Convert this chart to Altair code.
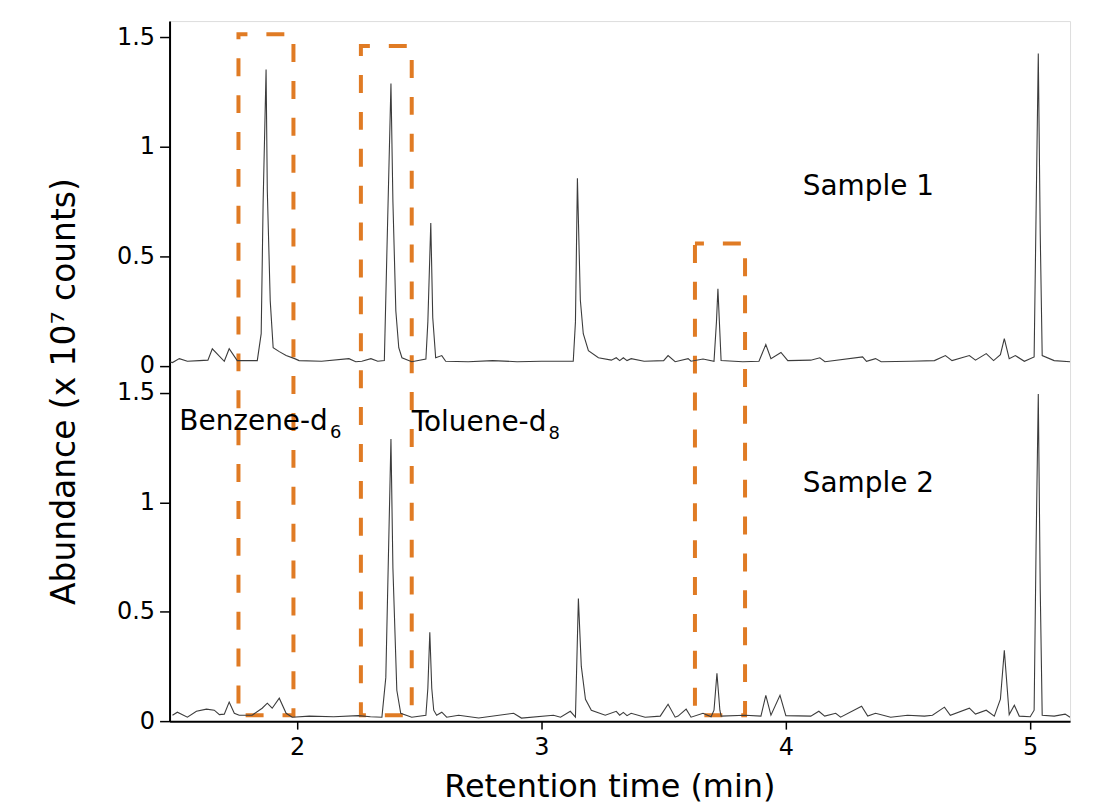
import altair as alt
import pandas as pd

# ---- data (time in min, abundance in 10^7 counts) ----
s1_time = [1.478, 1.490, 1.518, 1.551, 1.600, 1.635, 1.653, 1.702, 1.722, 1.755,
           1.837, 1.853, 1.861, 1.873, 1.878, 1.890, 1.902, 1.927, 1.955, 1.990,
           2.008, 2.100, 2.212, 2.240, 2.265, 2.302, 2.330, 2.357, 2.367, 2.384,
           2.392, 2.404, 2.416, 2.429, 2.469, 2.527, 2.535, 2.547, 2.555, 2.567,
           2.592, 2.608, 2.700, 2.800, 2.900, 3.000, 3.130, 3.139, 3.147, 3.159,
           3.171, 3.192, 3.233, 3.286, 3.306, 3.320, 3.335, 3.350, 3.367, 3.420,
           3.500, 3.518, 3.547, 3.600, 3.612, 3.661, 3.706, 3.716, 3.722, 3.730,
           3.735, 3.824, 3.890, 3.918, 3.939, 3.980, 4.008, 4.102, 4.139, 4.160,
           4.314, 4.330, 4.367, 4.390, 4.510, 4.608, 4.653, 4.680, 4.751, 4.776,
           4.820, 4.850, 4.878, 4.894, 4.914, 4.939, 4.976, 5.016, 5.024, 5.033,
           5.041, 5.049, 5.098, 5.163]
s1_abund = [0.018, 0.014, 0.032, 0.020, 0.023, 0.025, 0.077, 0.020, 0.077, 0.023,
            0.023, 0.146, 0.750, 1.354, 0.800, 0.296, 0.082, 0.064, 0.046, 0.032,
            0.023, 0.020, 0.032, 0.018, 0.020, 0.032, 0.020, 0.023, 0.500, 1.290,
            0.750, 0.250, 0.082, 0.036, 0.018, 0.030, 0.200, 0.652, 0.220, 0.036,
            0.046, 0.020, 0.018, 0.023, 0.018, 0.020, 0.020, 0.200, 0.857, 0.300,
            0.146, 0.068, 0.036, 0.025, 0.036, 0.023, 0.036, 0.023, 0.032, 0.020,
            0.023, 0.046, 0.018, 0.032, 0.020, 0.030, 0.020, 0.200, 0.351, 0.150,
            0.023, 0.018, 0.020, 0.096, 0.032, 0.060, 0.023, 0.025, 0.036, 0.018,
            0.040, 0.020, 0.032, 0.018, 0.020, 0.023, 0.046, 0.023, 0.046, 0.025,
            0.055, 0.023, 0.050, 0.123, 0.032, 0.046, 0.020, 0.040, 0.700, 1.427,
            0.600, 0.046, 0.023, 0.018]

s2_time = [1.490, 1.510, 1.551, 1.588, 1.629, 1.661, 1.682, 1.702, 1.722, 1.743,
           1.763, 1.816, 1.857, 1.878, 1.898, 1.927, 1.955, 1.980, 2.050, 2.150,
           2.250, 2.300, 2.347, 2.363, 2.384, 2.392, 2.408, 2.424, 2.469, 2.527,
           2.535, 2.543, 2.551, 2.559, 2.571, 2.592, 2.612, 2.661, 2.743, 2.886,
           2.918, 3.049, 3.078, 3.118, 3.139, 3.151, 3.163, 3.180, 3.204, 3.261,
           3.306, 3.320, 3.335, 3.350, 3.367, 3.424, 3.486, 3.518, 3.547, 3.559,
           3.592, 3.612, 3.661, 3.694, 3.706, 3.718, 3.730, 3.735, 3.833, 3.898,
           3.918, 3.939, 3.976, 4.000, 4.102, 4.135, 4.159, 4.204, 4.224, 4.310,
           4.335, 4.367, 4.429, 4.498, 4.567, 4.600, 4.649, 4.673, 4.751, 4.776,
           4.820, 4.853, 4.878, 4.894, 4.914, 4.935, 4.955, 5.000, 5.016, 5.024,
           5.033, 5.041, 5.049, 5.098, 5.143, 5.163]
s2_abund = [0.027, 0.041, 0.018, 0.045, 0.055, 0.050, 0.030, 0.032, 0.087, 0.036,
            0.027, 0.027, 0.059, 0.082, 0.059, 0.105, 0.036, 0.018, 0.023, 0.020,
            0.025, 0.020, 0.018, 0.200, 1.290, 0.700, 0.141, 0.036, 0.018, 0.027,
            0.150, 0.406, 0.150, 0.050, 0.027, 0.041, 0.018, 0.027, 0.014, 0.036,
            0.014, 0.027, 0.018, 0.045, 0.018, 0.561, 0.250, 0.100, 0.050, 0.027,
            0.045, 0.027, 0.040, 0.025, 0.036, 0.018, 0.023, 0.077, 0.018, 0.023,
            0.055, 0.018, 0.036, 0.020, 0.050, 0.219, 0.050, 0.023, 0.027, 0.023,
            0.118, 0.027, 0.118, 0.025, 0.023, 0.045, 0.023, 0.036, 0.018, 0.068,
            0.023, 0.036, 0.018, 0.027, 0.023, 0.027, 0.064, 0.027, 0.059, 0.032,
            0.050, 0.023, 0.100, 0.324, 0.030, 0.073, 0.023, 0.020, 0.050, 0.800,
            1.495, 0.600, 0.027, 0.023, 0.032, 0.018]

# highlighted windows (start, end in min; top in Sample 1 units; bottom in Sample 2 units)
box_start = [1.760, 2.261, 3.628]
box_end = [1.985, 2.469, 3.833]
box_top = [1.515, 1.461, 0.558]
box_bottom = [0.027, 0.027, 0.027]

# sample names
sample_labels = ["Sample 1", "Sample 2"]
sample_label_time = [4.069, 4.069]
sample_label_abund = [0.818, 1.085]
sample_label_panel = ["Sample 1", "Sample 2"]

# compound names (placed in the Sample 2 panel) with their subscripts
compound_labels = ["Benzene-d", "Toluene-d"]
compound_time = [1.518, 2.469]
compound_abund = [1.331, 1.326]
subscript_labels = ["6", "8"]
subscript_time = [2.135, 3.029]
subscript_abund = [1.294, 1.290]

y_ticks = [0, 0.5, 1, 1.5]
x_ticks = [2, 3, 4, 5]

OFFSET = 1.625  # vertical stacking offset of the Sample 1 trace

# ---- tables ----
traces = pd.concat([
    pd.DataFrame({"time": s1_time, "abund": s1_abund, "sample": "Sample 1"}),
    pd.DataFrame({"time": s2_time, "abund": s2_abund, "sample": "Sample 2"}),
], ignore_index=True)
boxes = pd.DataFrame({"start": box_start, "end": box_end,
                      "top": box_top, "bottom": box_bottom})
samp = pd.DataFrame({"label": sample_labels, "time": sample_label_time,
                     "abund": sample_label_abund, "sample": sample_label_panel})
comp = pd.DataFrame({"label": compound_labels, "time": compound_time,
                     "abund": compound_abund})
subs = pd.DataFrame({"label": subscript_labels, "time": subscript_time,
                     "abund": subscript_abund})

ytick_vals = [v for v in y_ticks] + [v + OFFSET for v in y_ticks]

xscale = alt.Scale(domain=[1.478, 5.163], nice=False, zero=False)
yscale = alt.Scale(domain=[0, 3.2], nice=False, zero=False)

FONT = "DejaVu Sans"

x_axis = alt.Axis(values=x_ticks, format="d", title="Retention time (min)", grid=False,
                  labelFontSize=24, labelFont=FONT, labelColor="black",
                  titleFontSize=32, titleFont=FONT, titleFontWeight="normal",
                  titleColor="black", tickSize=8, tickWidth=1.5, tickColor="black",
                  domainColor="black", domainWidth=2, labelPadding=6,
                  titleX=441, titleY=76, titleBaseline="alphabetic",
                  titleAlign="center")
y_axis = alt.Axis(values=ytick_vals, title="Abundance (x 10\u2077 counts)", grid=False,
                  labelExpr=f"datum.value < 1.6 ? format(datum.value, '') : format(datum.value - {OFFSET}, '')",
                  labelFontSize=24, labelFont=FONT, labelColor="black",
                  titleFontSize=33, titleFont=FONT, titleFontWeight="normal",
                  titleColor="black", tickSize=10, tickWidth=1.5, tickColor="black",
                  domainColor="black", domainWidth=2, labelPadding=5,
                  titleX=-105, titleY=371, titleAngle=270, titleAlign="center",
                  titleBaseline="middle")

lines = alt.Chart(traces).transform_calculate(
    ypos=f"datum.abund + (datum.sample == 'Sample 1' ? {OFFSET} : 0)"
).mark_line(color="#3c3c3c", strokeWidth=1.1, clip=True).encode(
    x=alt.X("time:Q", scale=xscale, axis=x_axis),
    y=alt.Y("ypos:Q", scale=yscale, axis=y_axis),
    detail="sample:N",
)

rects = alt.Chart(boxes).transform_calculate(
    ytop=f"datum.top + {OFFSET}"
).mark_rect(fill=None, fillOpacity=0, stroke="#E07B24", strokeWidth=4,
            strokeDash=[18, 19], strokeDashOffset=9).encode(
    x="start:Q", x2="end:Q", y="ytop:Q", y2="bottom:Q",
)

sample_text = alt.Chart(samp).transform_calculate(
    ypos=f"datum.abund + (datum.sample == 'Sample 1' ? {OFFSET} : 0)"
).mark_text(align="left", baseline="middle", font=FONT, fontSize=28,
            color="black").encode(
    x="time:Q", y="ypos:Q", text="label:N",
)

comp_text = alt.Chart(comp).mark_text(
    align="left", baseline="alphabetic", font=FONT, fontSize=28, color="black"
).encode(x="time:Q", y="abund:Q", text="label:N")

sub_text = alt.Chart(subs).mark_text(
    align="left", baseline="alphabetic", font=FONT, fontSize=18, color="black"
).encode(x="time:Q", y="abund:Q", text="label:N")

chart = alt.layer(rects, lines, sample_text, comp_text, sub_text).properties(
    width=903, height=702,
    autosize=alt.AutoSizeParams(type="none"),
    padding={"left": 162, "top": 12, "right": 20, "bottom": 85},
).configure_view(stroke=None).configure(background="white")

chart.save("out.html", embed_options={"renderer": "svg", "actions": False})
